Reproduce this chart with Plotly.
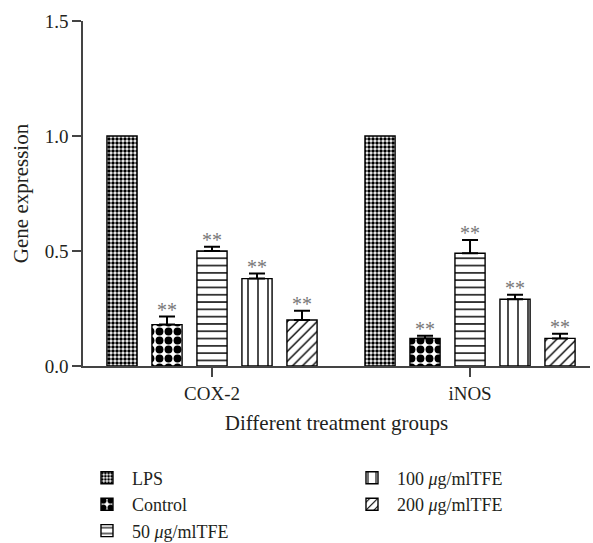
import plotly.graph_objects as go

categories = ["COX-2", "iNOS"]
series_names = ["LPS", "Control", "50 <i>μ</i>g/mlTFE", "100 <i>μ</i>g/mlTFE", "200 <i>μ</i>g/mlTFE"]
values = {
    "LPS": [1.0, 1.0],
    "Control": [0.18, 0.12],
    "50": [0.50, 0.49],
    "100": [0.38, 0.29],
    "200": [0.20, 0.12],
}
errors = {
    "LPS": [0.0, 0.0],
    "Control": [0.035, 0.012],
    "50": [0.018, 0.058],
    "100": [0.022, 0.02],
    "200": [0.04, 0.02],
}
stars = {
    "LPS": ["", ""],
    "Control": ["**", "**"],
    "50": ["**", "**"],
    "100": ["**", "**"],
    "200": ["**", "**"],
}
keys = ["LPS", "Control", "50", "100", "200"]
patterns = [
    dict(shape=".", size=4, solidity=0.6, fgcolor="black", bgcolor="white", fillmode="replace"),
    dict(shape=".", size=9, solidity=0.6, fgcolor="black", bgcolor="white", fillmode="replace"),
    dict(shape="-", size=7.3, solidity=0.2, fgcolor="black", bgcolor="white", fillmode="replace"),
    dict(shape="|", size=10, solidity=0.14, fgcolor="black", bgcolor="white", fillmode="replace"),
    dict(shape="/", size=7, solidity=0.2, fgcolor="black", bgcolor="white", fillmode="replace"),
]
legend_column = ["legend", "legend", "legend", "legend2", "legend2"]

BARGAP = 0.128
SERIF = "Liberation Serif"
TXT = "#231f20"

fig = go.Figure()
xs = list(range(len(categories)))
n = len(keys)
slot = (1 - BARGAP) / n
for i, k in enumerate(keys):
    fig.add_trace(go.Bar(
        x=xs, y=values[k], name=series_names[i],
        marker=dict(color="white", line=dict(color="black", width=1.4), pattern=patterns[i]),
        error_y=dict(type="data", symmetric=False, array=errors[k], arrayminus=[0, 0],
                     color="black", thickness=2, width=8, visible=k != "LPS"),
        legend=legend_column[i],
    ))
    for j, x in enumerate(xs):
        if stars[k][j]:
            fig.add_annotation(
                x=x + (i - (n - 1) / 2) * slot, y=values[k][j] + errors[k][j],
                text=stars[k][j], showarrow=False, yanchor="bottom", yshift=-6,
                font=dict(family=SERIF, size=20, color="#777777"),
            )

legend_style = dict(orientation="v", xanchor="left", yref="container", y=0.1536, yanchor="top",
                    itemwidth=40, traceorder="normal",
                    font=dict(family=SERIF, size=18, color=TXT))
fig.update_layout(
    width=593, height=543,
    margin=dict(l=83, r=3, t=21, b=177),
    paper_bgcolor="white", plot_bgcolor="white",
    barmode="group", bargap=BARGAP, bargroupgap=0.33,
    font=dict(family=SERIF, size=19, color=TXT),
    showlegend=True,
    legend=dict(x=-0.002, **legend_style),
    legend2=dict(x=0.5207, **legend_style),
)
fig.update_xaxes(
    range=[-0.5, 1.465], tickvals=xs, ticktext=categories,
    showline=True, linecolor="#444444", linewidth=1.5,
    ticks="outside", ticklen=9, tickwidth=1.5, tickcolor="#444444",
    tickfont=dict(family=SERIF, size=19, color=TXT),
    showgrid=False, zeroline=False,
    title=dict(text="Different treatment groups", standoff=13,
               font=dict(family=SERIF, size=21, color=TXT)),
)
fig.update_yaxes(
    range=[0, 1.5], tickvals=[0, 0.5, 1.0, 1.5], ticktext=["0.0", "0.5", "1.0", "1.5"],
    showline=True, linecolor="#444444", linewidth=1.5,
    ticks="outside", ticklen=9, tickwidth=1.5, tickcolor="#444444",
    tickfont=dict(family=SERIF, size=19, color=TXT),
    showgrid=False, zeroline=False,
    title=dict(text="Gene expression", standoff=10,
               font=dict(family=SERIF, size=21, color=TXT)),
)
fig.write_html("out.html", config={"displayModeBar": False},
               post_script="document.body.style.margin='0px';document.body.style.padding='0px';")
